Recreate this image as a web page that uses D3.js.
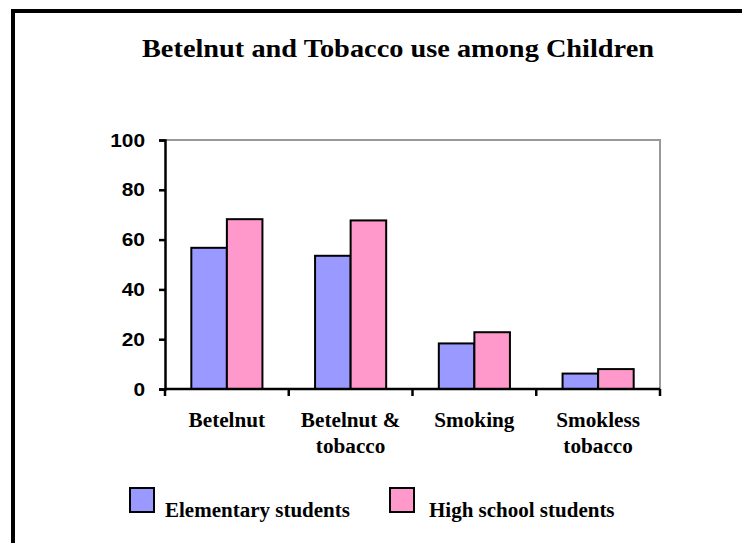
<!DOCTYPE html>
<html>
<head>
<meta charset="utf-8">
<script src="https://cdn.jsdelivr.net/npm/d3@7"></script>
<style>
  body { margin: 0; background: #fff; }
  svg { display: block; }
</style>
</head>
<body>
<div id="chart"></div>
<script>
// data
var categories = [["Betelnut"], ["Betelnut &", "tobacco"], ["Smoking"], ["Smokless", "tobacco"]];
var seriesNames = ["Elementary students", "High school students"];
var elementary = [56.7, 53.5, 18.3, 6.2];
var highSchool = [68.2, 67.7, 22.8, 8.0];
var yTicks = [0, 20, 40, 60, 80, 100];
var colors = ["#9999ff", "#ff99cc"];

var width = 742, height = 543;
var margin = {left: 165, right: 82, top: 140, bottom: 154};
var plotW = width - margin.left - margin.right;
var plotH = height - margin.top - margin.bottom;

var serif = "'Liberation Serif', 'Times New Roman', serif";

// the source picture is a little wider than the fonts, so stretch text a bit
function stretch(sel, k) {
    sel.each(function() {
        var w = this.getComputedTextLength();
        this.setAttribute("textLength", w * k);
        this.setAttribute("lengthAdjust", "spacingAndGlyphs");
    });
}

var svg = d3.select("#chart").append("svg")
    .attr("width", width)
    .attr("height", height);

// outer frame (runs off the right and bottom)
svg.append("rect")
    .attr("x", 13).attr("y", 11)
    .attr("width", 760).attr("height", 560)
    .attr("fill", "none")
    .attr("stroke", "#000")
    .attr("stroke-width", 4);

var title = svg.append("text")
    .attr("x", 398).attr("y", 57)
    .attr("text-anchor", "middle")
    .style("font-family", serif)
    .style("font-weight", "bold")
    .style("font-size", "26px")
    .text("Betelnut and Tobacco use among Children");
stretch(title, 1.09);

var g = svg.append("g")
    .attr("transform", "translate(" + margin.left + "," + margin.top + ")");

var keys = categories.map(function(d) { return d.join(" "); });

var x = d3.scaleBand().domain(keys).range([0, plotW]).paddingInner(0).paddingOuter(0);
var x1 = d3.scaleBand().domain([0, 1]).range([0, x.bandwidth()]).paddingInner(0).paddingOuter(0.74);
var y = d3.scaleLinear().domain([0, 100]).range([plotH, 0]);

// gray frame on top and right
g.append("path")
    .attr("d", "M0,0H" + plotW + "V" + plotH)
    .attr("fill", "none")
    .attr("stroke", "#999")
    .attr("stroke-width", 2);

var rows = keys.map(function(k, i) {
    return {key: k, values: [elementary[i], highSchool[i]]};
});

g.append("g").selectAll("g")
    .data(rows)
    .join("g")
    .attr("transform", function(d) { return "translate(" + x(d.key) + ",0)"; })
    .selectAll("rect")
    .data(function(d) { return d.values.map(function(v, j) { return {j: j, v: v}; }); })
    .join("rect")
    .attr("x", function(d) { return x1(d.j); })
    .attr("y", function(d) { return y(d.v); })
    .attr("width", x1.bandwidth())
    .attr("height", function(d) { return y(0) - y(d.v); })
    .attr("fill", function(d) { return colors[d.j]; })
    .attr("stroke", "#000")
    .attr("stroke-width", 2);

// y axis
var yAxis = g.append("g")
    .call(d3.axisLeft(y).tickValues(yTicks).tickSize(6).tickPadding(14));
yAxis.select(".domain").attr("stroke", "#000").attr("stroke-width", 2.5);
yAxis.selectAll(".tick line").attr("stroke", "#000").attr("stroke-width", 2.5);
yAxis.selectAll("text")
    .style("font-family", "'Liberation Sans', Arial, sans-serif")
    .style("font-weight", "bold")
    .style("font-size", "19px")
    .attr("fill", "#000");
stretch(yAxis.selectAll("text"), 1.1);

// x axis: ticks at category boundaries
var xAxis = g.append("g").attr("transform", "translate(0," + plotH + ")");
xAxis.append("line")
    .attr("x1", 0).attr("x2", plotW)
    .attr("stroke", "#000").attr("stroke-width", 2.5);
var bounds = keys.map(function(k) { return x(k); }).concat([plotW]);
xAxis.selectAll(".btick")
    .data(bounds)
    .join("line")
    .attr("class", "btick")
    .attr("x1", function(d) { return d; }).attr("x2", function(d) { return d; })
    .attr("y1", 0).attr("y2", 7)
    .attr("stroke", "#000").attr("stroke-width", 2.5);

// one text element per label line
var lines = [];
categories.forEach(function(c, i) {
    c.forEach(function(t, j) { lines.push({text: t, i: i, j: j}); });
});
var xl = xAxis.selectAll(".xlab")
    .data(lines)
    .join("text")
    .attr("class", "xlab")
    .attr("x", function(d) { return x(keys[d.i]) + x.bandwidth() / 2; })
    .attr("y", function(d) { return 38 + d.j * 26; })
    .attr("text-anchor", "middle")
    .style("font-family", serif)
    .style("font-weight", "bold")
    .style("font-size", "20px")
    .text(function(d) { return d.text; });
stretch(xl, 1.06);

// legend
var legendX = [130, 390];
var legend = svg.selectAll(".legend")
    .data(seriesNames)
    .join("g")
    .attr("class", "legend")
    .attr("transform", function(d, i) { return "translate(" + legendX[i] + ",488)"; });
legend.append("rect")
    .attr("width", 24).attr("height", 24)
    .attr("fill", function(d, i) { return colors[i]; })
    .attr("stroke", "#000").attr("stroke-width", 2);
var lt = legend.append("text")
    .attr("x", function(d, i) { return i === 0 ? 35 : 39; })
    .attr("y", 29)
    .style("font-family", serif)
    .style("font-weight", "bold")
    .style("font-size", "20px")
    .text(function(d) { return d; });
stretch(lt, 1.05);
</script>
</body>
</html>
